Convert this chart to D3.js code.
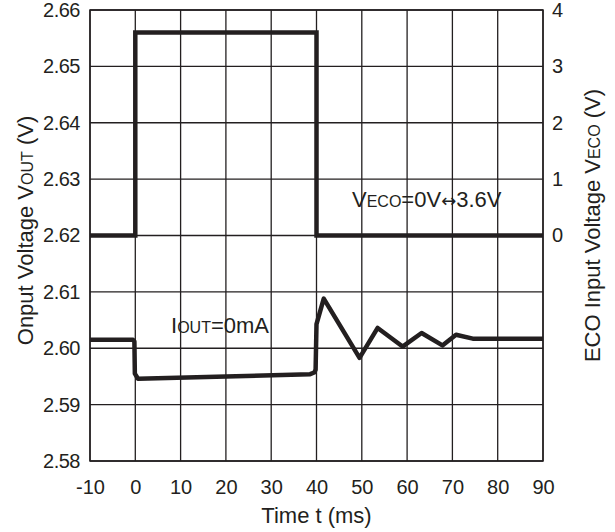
<!DOCTYPE html>
<html>
<head>
<meta charset="utf-8">
<script src="https://cdn.jsdelivr.net/npm/d3@7"></script>
<style>
  html, body { margin: 0; padding: 0; background: #fff; }
  svg { display: block; font-family: Arial, "Liberation Sans", Helvetica, sans-serif; }
</style>
</head>
<body>
<svg id="chart" width="615" height="532"></svg>
<script>
// ---- Data ----
const xTicks = [-10, 0, 10, 20, 30, 40, 50, 60, 70, 80, 90];
const yLeftTicks = [2.58, 2.59, 2.60, 2.61, 2.62, 2.63, 2.64, 2.65, 2.66];
const yRightTicks = [0, 1, 2, 3, 4];

// ECO input voltage (V) vs time (ms)
const ecoTime = [-10, 0, 0, 40, 40, 90];
const ecoVolt = [0, 0, 3.6, 3.6, 0, 0];

// Output voltage (V) vs time (ms)
const voutTime = [-10, -0.5, -0.2, -0.1, 0.6, 20, 38.6, 39.5, 39.8, 40.0, 41.6, 49.5, 53.5, 59.0, 63.2, 67.8, 70.8, 74.5, 90];
const voutVolt = [2.6015, 2.6015, 2.6012, 2.5955, 2.5946, 2.5950, 2.5954, 2.5957, 2.5962, 2.6043, 2.6088, 2.5983, 2.6036, 2.6003, 2.6027, 2.6005, 2.6024, 2.6017, 2.6017];

// ---- Layout ----
const svg = d3.select("#chart");
const m = { left: 90, top: 10, right: 72, bottom: 71 };
const W = 615 - m.left - m.right;   // 453
const H = 532 - m.top - m.bottom;   // 451
const ink = "#231f20";
const fontFam = "Arial, 'Liberation Sans', sans-serif";

const x = d3.scaleLinear().domain([-10, 90]).range([m.left, m.left + W]);
const y = d3.scaleLinear().domain([2.58, 2.66]).range([m.top + H, m.top]);
const yR = d3.scaleLinear().domain([-4, 4]).range([m.top + H, m.top]);

// grid
const g = svg.append("g");
g.selectAll("line.v").data(xTicks).join("line")
  .attr("x1", d => x(d)).attr("x2", d => x(d))
  .attr("y1", m.top).attr("y2", m.top + H)
  .attr("stroke", ink).attr("stroke-width", 1.3);
g.selectAll("line.h").data(yLeftTicks).join("line")
  .attr("x1", m.left).attr("x2", m.left + W)
  .attr("y1", d => y(d)).attr("y2", d => y(d))
  .attr("stroke", ink).attr("stroke-width", 1.3);

// axes (labels only)
const fs = 20;
const xAxis = d3.axisBottom(x).tickValues(xTicks).tickSize(0).tickPadding(0).tickFormat(d => String(d));
const xa = svg.append("g").attr("transform", `translate(0,${m.top + H})`).call(xAxis);
xa.select(".domain").remove();
xa.selectAll("text").attr("font-size", fs).attr("fill", ink).attr("dy", null).attr("y", 33).attr("font-family", fontFam);

const yAxis = d3.axisLeft(y).tickValues(yLeftTicks).tickSize(0).tickPadding(10).tickFormat(d3.format(".2f"));
const ya = svg.append("g").attr("transform", `translate(${m.left},0)`).call(yAxis);
ya.select(".domain").remove();
ya.selectAll("text").attr("font-size", fs).attr("fill", ink).attr("letter-spacing", "-0.5px").attr("font-family", fontFam);

const yAxisR = d3.axisRight(yR).tickValues(yRightTicks).tickSize(0).tickPadding(9).tickFormat(d => String(d));
const yra = svg.append("g").attr("transform", `translate(${m.left + W},0)`).call(yAxisR);
yra.select(".domain").remove();
yra.selectAll("text").attr("font-size", fs).attr("fill", ink).attr("font-family", fontFam);

// lines
const line = d3.line().x(d => x(d[0])).y(d => d[1]);
const ecoPts = ecoTime.map((t, i) => [t, yR(ecoVolt[i])]);
const voutPts = voutTime.map((t, i) => [t, y(voutVolt[i])]);

svg.append("path").attr("d", line(ecoPts))
  .attr("fill", "none").attr("stroke", ink).attr("stroke-width", 4.5).attr("stroke-linejoin", "miter");
svg.append("path").attr("d", line(voutPts))
  .attr("fill", "none").attr("stroke", ink).attr("stroke-width", 4.5).attr("stroke-linejoin", "round");

// frame
svg.append("rect").attr("x", m.left).attr("y", m.top).attr("width", W).attr("height", H)
  .attr("fill", "none").attr("stroke", ink).attr("stroke-width", 1.5);

// titles
const tfs = 22, sub = 16;
svg.append("text").attr("x", m.left + W / 2).attr("y", 523)
  .attr("text-anchor", "middle").attr("font-size", tfs).attr("fill", ink).text("Time t (ms)");

const lt = svg.append("text").attr("transform", `translate(33,${m.top + H / 2 - 5}) rotate(-90)`)
  .attr("text-anchor", "middle").attr("font-size", tfs).attr("fill", ink);
lt.append("tspan").text("Onput Voltage V");
lt.append("tspan").attr("font-size", sub).text("OUT");
lt.append("tspan").text(" (V)");

const rt = svg.append("text").attr("transform", `translate(600,${m.top + H / 2 - 10}) rotate(-90)`)
  .attr("text-anchor", "middle").attr("font-size", tfs).attr("fill", ink);
rt.append("tspan").text("ECO Input Voltage V");
rt.append("tspan").attr("font-size", sub).text("ECO");
rt.append("tspan").text(" (V)");

// annotations
const a1 = svg.append("text").attr("x", 171).attr("y", 333).attr("font-size", tfs).attr("fill", ink);
a1.append("tspan").text("I");
a1.append("tspan").attr("font-size", sub).text("OUT");
a1.append("tspan").text("=0mA");

const a2 = svg.append("text").attr("x", 352).attr("y", 207).attr("font-size", tfs).attr("fill", ink);
a2.append("tspan").text("V");
a2.append("tspan").attr("font-size", sub).text("ECO");
a2.append("tspan").text("=0V");
a2.append("tspan").attr("font-family", "'DejaVu Sans', sans-serif").attr("font-size", 18).text("\u2194");
a2.append("tspan").text("3.6V");
</script>
</body>
</html>
